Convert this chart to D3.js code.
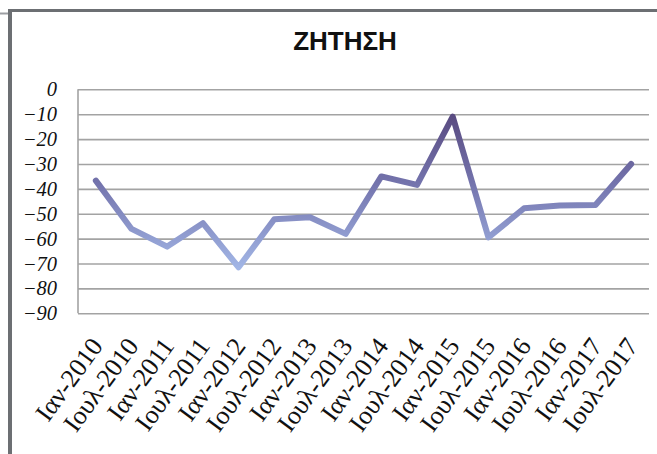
<!DOCTYPE html>
<html>
<head>
<meta charset="utf-8">
<script src="https://cdn.jsdelivr.net/npm/d3@7"></script>
<style>
  html, body { margin: 0; padding: 0; background: #fff; }
  svg { display: block; }
</style>
</head>
<body>
<svg id="chart" width="657" height="454"></svg>
<script>
// Half-yearly demand balance, January / July readings
const categories = [
  "Ιαν-2010", "Ιουλ-2010", "Ιαν-2011", "Ιουλ-2011",
  "Ιαν-2012", "Ιουλ-2012", "Ιαν-2013", "Ιουλ-2013",
  "Ιαν-2014", "Ιουλ-2014", "Ιαν-2015", "Ιουλ-2015",
  "Ιαν-2016", "Ιουλ-2016", "Ιαν-2017", "Ιουλ-2017"
];
const values = [
  -36.7, -56.1, -63.2, -53.8,
  -71.5, -52.2, -51.4, -58.1,
  -35.0, -38.4, -11.0, -59.5,
  -47.8, -46.7, -46.5, -30.0
];
const yTicks = [0, -10, -20, -30, -40, -50, -60, -70, -80, -90];
const title = "ΖΗΤΗΣΗ";

const svg = d3.select("#chart");
const W = 657, H = 454;
const plot = { left: 78, right: 649, top: 89.3, bottom: 313.3 };

// frame around the chart area
svg.append("rect").attr("x", 0).attr("y", 0).attr("width", W).attr("height", H).attr("fill", "#fff");
svg.append("line").attr("x1", 0).attr("x2", 9).attr("y1", 13.5).attr("y2", 13.5)
  .attr("stroke", "#9c9ea2").attr("stroke-width", 2);
svg.append("rect").attr("x", 8).attr("y", 9).attr("width", 4).attr("height", H - 9).attr("fill", "#6c6f73");
svg.append("rect").attr("x", 8).attr("y", 9).attr("width", W - 8).attr("height", 3).attr("fill", "#6c6f73");

const x = d3.scaleBand().domain(categories).range([plot.left, plot.right]);
const y = d3.scaleLinear().domain([-90, 0]).range([plot.bottom, plot.top]);

// horizontal gridlines and y labels
const yAxis = svg.append("g")
  .attr("transform", `translate(${plot.left},0)`)
  .call(d3.axisLeft(y).tickValues(yTicks).tickSize(-(plot.right - plot.left)).tickPadding(21)
    .tickFormat(d3.format("d")));
yAxis.select(".domain").remove();
yAxis.selectAll(".tick line").attr("stroke", "#a3a3a3").attr("stroke-width", 1.6);
yAxis.selectAll(".tick text")
  .attr("font-family", "'Liberation Serif', 'Times New Roman', serif")
  .attr("font-style", "italic")
  .attr("font-size", 20.5)
  .attr("fill", "#111");

// vertical axis line
svg.append("line")
  .attr("x1", plot.left).attr("x2", plot.left)
  .attr("y1", plot.top).attr("y2", plot.bottom)
  .attr("stroke", "#a3a3a3").attr("stroke-width", 1.6);

// rotated category labels
const xLabels = svg.append("g");
xLabels.selectAll("text")
  .data(categories)
  .join("text")
  .attr("transform", d => `translate(${x(d) + x.bandwidth() / 2 + 8},${plot.bottom + 33}) rotate(-54)`)
  .attr("text-anchor", "end")
  .attr("font-family", "'Liberation Serif', 'Times New Roman', serif")
  .attr("font-size", 26)
  .attr("fill", "#111")
  .text(d => d);

// vertical colour ramp for the line, dark at the top, light at the bottom
const defs = svg.append("defs");
const grad = defs.append("linearGradient")
  .attr("id", "lineGrad")
  .attr("gradientUnits", "userSpaceOnUse")
  .attr("x1", 0).attr("x2", 0)
  .attr("y1", y(-10)).attr("y2", y(-72));
grad.append("stop").attr("offset", "0%").attr("stop-color", "#594a80");
grad.append("stop").attr("offset", "45%").attr("stop-color", "#7474ad");
grad.append("stop").attr("offset", "100%").attr("stop-color", "#a2b6e6");

const line = d3.line()
  .x((d, i) => x(categories[i]) + x.bandwidth() / 2)
  .y(d => y(d));

svg.append("path")
  .datum(values)
  .attr("d", line)
  .attr("fill", "none")
  .attr("stroke", "url(#lineGrad)")
  .attr("stroke-width", 6)
  .attr("stroke-linejoin", "round")
  .attr("stroke-linecap", "round");

// title
svg.append("text")
  .attr("x", 345).attr("y", 50)
  .attr("text-anchor", "middle")
  .attr("font-family", "'Liberation Sans', Arial, sans-serif")
  .attr("font-weight", "bold")
  .attr("font-size", 26)
  .attr("fill", "#111")
  .text(title);
</script>
</body>
</html>
